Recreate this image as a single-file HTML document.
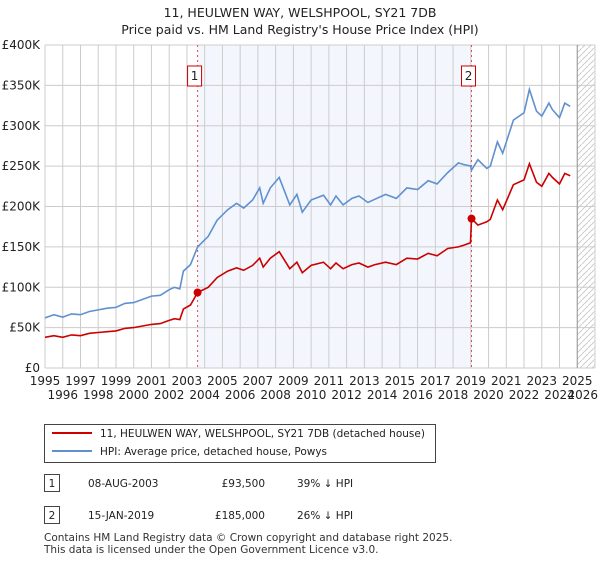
<!DOCTYPE html>
<html><head><meta charset="utf-8"><style>
body{margin:0;background:#fff;font-family:"DejaVu Sans","Liberation Sans",sans-serif;}
#wrap{position:relative;width:600px;height:560px;}
svg text{font-family:"DejaVu Sans","Liberation Sans",sans-serif;}
</style></head><body>
<div id="wrap">
<svg id="chart" width="600" height="560" xmlns="http://www.w3.org/2000/svg"></svg>
</div>
<script>
const dates=[1995.0,1995.5,1996.0,1996.5,1997.0,1997.5,1998.0,1998.5,1999.0,1999.5,2000.0,2000.5,2001.0,2001.5,2002.0,2002.3,2002.6,2002.8,2003.2,2003.6,2004.2,2004.7,2005.3,2005.8,2006.2,2006.7,2007.1,2007.3,2007.7,2008.2,2008.8,2009.2,2009.5,2010.0,2010.7,2011.1,2011.4,2011.8,2012.3,2012.7,2013.2,2013.6,2014.2,2014.8,2015.4,2016.0,2016.6,2017.1,2017.7,2018.3,2018.6,2018.98,2019.04,2019.4,2019.9,2020.1,2020.5,2020.8,2021.4,2022.0,2022.3,2022.7,2023.0,2023.4,2023.6,2024.0,2024.3,2024.6];
const hpi=[62,66,63,67,66,70,72,74,75,80,81,85,89,90,97,100,98,120,128,150,163,183,196,204,198,208,223,204,223,236,202,215,193,208,214,202,213,202,210,213,205,209,215,210,223,221,232,228,242,254,252,250,245,258,247,250,280,266,307,316,345,318,312,328,320,310,328,324];
const paid=[38,40,38,41,40,43,44,45,46,49,50,52,54,55,59,61,60,73,78,93.5,100,112,120,124,121,127,136,125,136,144,123,131,118,127,131,123,130,123,128,130,125,128,131,128,136,135,142,139,148,150,152,155,185,177,181,184,208,196,227,233,253,230,225,241,236,228,241,238];
const yTicks=[0,50,100,150,200,250,300,350,400];
const yTickLabels=["£0","£50K","£100K","£150K","£200K","£250K","£300K","£350K","£400K"];
const years=[1995,1996,1997,1998,1999,2000,2001,2002,2003,2004,2005,2006,2007,2008,2009,2010,2011,2012,2013,2014,2015,2016,2017,2018,2019,2020,2021,2022,2023,2024,2025,2026];
const sales=[2003.6,2019.04];
const salePrices=[93.5,185];
const saleLabels=["1","2"];
const L=45,R=595,T=45,B=368;
const xS=d=>L+(d-1995)/31*(R-L);
const yS=v=>B-v/400*(B-T);
const svg=document.getElementById('chart');
const NS="http://www.w3.org/2000/svg";
function mk(t,a,p){const e=document.createElementNS(NS,t);for(const k in a)e.setAttribute(k,a[k]);(p||svg).appendChild(e);return e;}
let band=mk('rect',{x:xS(sales[0]),y:T,width:xS(sales[1])-xS(sales[0]),height:B-T,fill:'#eef3fc',opacity:0.7});


const defs=mk('defs',{});
const pat=mk('pattern',{id:'hatch',width:6,height:6,patternUnits:'userSpaceOnUse'},defs);
mk('path',{d:'M0,6 L6,0',stroke:'#ccc','stroke-width':1},pat);
let hatch=mk('rect',{x:xS(2025.0),y:T,width:R-xS(2025.0),height:B-T,fill:'url(#hatch)'});


years.forEach((yr,i)=>{
 const g=mk('line',{x1:xS(yr),x2:xS(yr),y1:T,y2:B,stroke:'#cccccc','stroke-width':1});
 
 
 const last=i===years.length-1;
 const t=mk('text',{x:last?598:xS(yr),y:i%2==0?385:399,'text-anchor':last?'end':'middle','font-size':12,fill:'#222'});
 t.textContent=yr;
 
 
});
yTicks.forEach((v,i)=>{
 const g=mk('line',{x1:L,x2:R,y1:yS(v),y2:yS(v),stroke:'#cccccc','stroke-width':1});
 
 
 const t=mk('text',{x:40,y:yS(v)+4,'text-anchor':'end','font-size':12,fill:'#222'});
 t.textContent=yTickLabels[i];
 
 
});
mk('line',{x1:xS(2025.0),x2:xS(2025.0),y1:T,y2:B,stroke:'#999','stroke-width':1});
sales.forEach((s,i)=>{
 const l=mk('line',{x1:xS(s),x2:xS(s),y1:T,y2:B,stroke:'#e05050','stroke-width':1,'stroke-dasharray':'2,3'});
 
 
 const bx=mk('rect',{x:xS(s)-10,y:66,width:14,height:20,fill:'#fff',stroke:'#cc0000','stroke-width':1});
 
 
 const t=mk('text',{x:xS(s)-3,y:80,'text-anchor':'middle','font-size':12,fill:'#222'});
 t.textContent=saleLabels[i];
 
 
});
function path(vals){return vals.map((v,i)=>(i?'L':'M')+xS(dates[i]).toFixed(1)+','+yS(v).toFixed(1)).join(' ');}
const hl=mk('path',{d:path(hpi),fill:'none',stroke:'#6090d0','stroke-width':1.6});


const pl=mk('path',{d:path(paid),fill:'none',stroke:'#cc0000','stroke-width':1.6});


sales.forEach((s,i)=>{
 const c=mk('circle',{cx:xS(s),cy:yS(salePrices[i]),r:4,fill:'#cc0000'});
 
 
});
[["11, HEULWEN WAY, WELSHPOOL, SY21 7DB",17],["Price paid vs. HM Land Registry's House Price Index (HPI)",34]].forEach((a,i)=>{
 const t=mk('text',{x:300,y:a[1],'text-anchor':'middle','font-size':12.5,fill:'#222'});
 t.textContent=a[0];
 
 
});
const lg=mk('rect',{x:44.5,y:424.5,width:391,height:38,fill:'#fff',stroke:'#444','stroke-width':1});


[["#cc0000","11, HEULWEN WAY, WELSHPOOL, SY21 7DB (detached house)",437],["#6090d0","HPI: Average price, detached house, Powys",455]].forEach((a,i)=>{
 const l=mk('line',{x1:52,x2:92,y1:a[2]-4,y2:a[2]-4,stroke:a[0],'stroke-width':2});
 
 
 const t=mk('text',{x:100,y:a[2],'font-size':10.5,fill:'#222'});
 t.textContent=a[1];
 
 
});
[["1","08-AUG-2003","£93,500","39% ↓ HPI",487],["2","15-JAN-2019","£185,000","26% ↓ HPI",519]].forEach(r=>{
 const b=mk('rect',{x:44.5,y:r[4]-12.5,width:15,height:17,fill:'#fff',stroke:'#444'});
 
 
 const n=mk('text',{x:52,y:r[4],'text-anchor':'middle','font-size':10.5,fill:'#222'});n.textContent=r[0];
 
 
 [[88,r[1],'start'],[265,r[2],'end'],[297,r[3],'start']].forEach(c=>{
  const t=mk('text',{x:c[0],y:r[4],'text-anchor':c[2],'font-size':10.5,fill:'#222'});t.textContent=c[1];
  
  
 });
});
[["Contains HM Land Registry data © Crown copyright and database right 2025.",541],["This data is licensed under the Open Government Licence v3.0.",553]].forEach(a=>{
 const t=mk('text',{x:44,y:a[1],'font-size':10.5,fill:'#333'});t.textContent=a[0];
 
 
});
</script>
</body></html>
